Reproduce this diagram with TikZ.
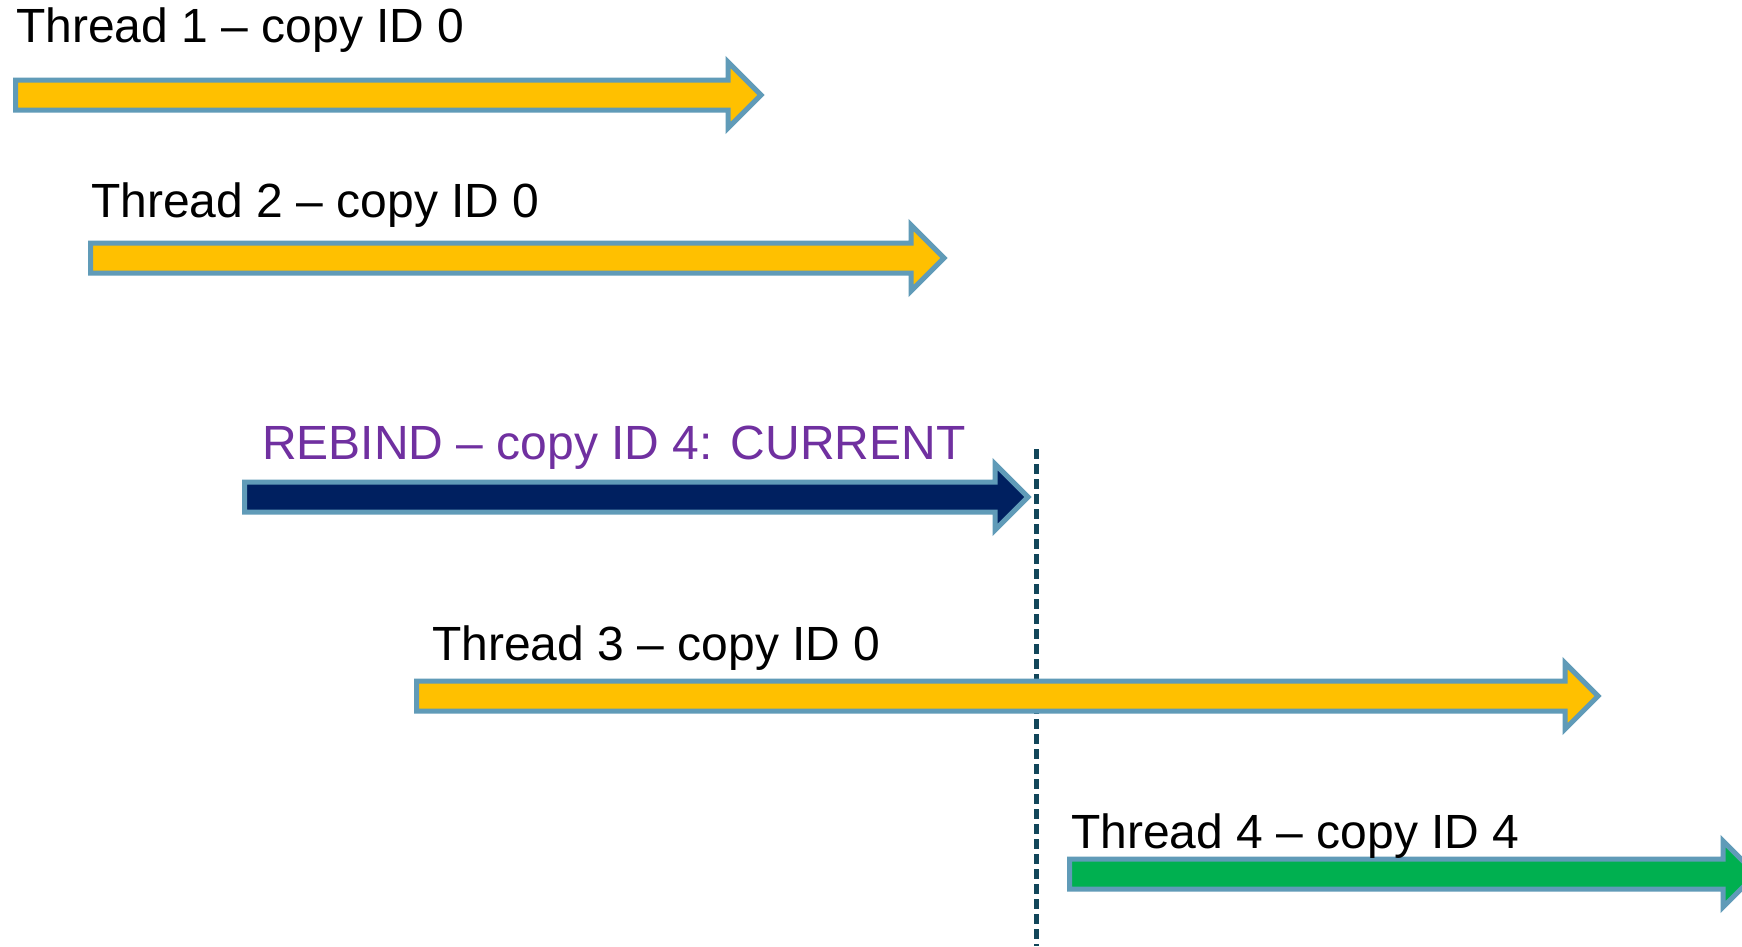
\documentclass[tikz,border=0pt]{standalone}
\usepackage{fontspec}
\setmainfont{Liberation Sans}
\definecolor{arrowline}{RGB}{96,155,184}
\definecolor{tyellow}{RGB}{255,192,0}
\definecolor{tnavy}{RGB}{0,32,96}
\definecolor{tgreen}{RGB}{0,176,80}
\definecolor{tpurple}{RGB}{112,48,160}
\definecolor{dashcol}{RGB}{18,70,90}
\newcommand\threadarrow[5]{% name, left, tip, centre y, fill
  \path[arrowbox,fill=#5] (#2,#4-15) -- (#3-33,#4-15) -- (#3-33,#4-33) -- (#3,#4)
    -- (#3-33,#4+33) -- (#3-33,#4+15) -- (#2,#4+15) -- cycle;
  \coordinate (#1) at (#3,#4);}
\tikzset{
  arrowbox/.style={draw=arrowline,line width=5pt,line join=miter},
  lbl/.style={anchor=base west,inner sep=0pt,font=\fontsize{48}{57}\selectfont},
  marker/.style={draw=dashcol,line width=5pt,dash pattern=on 10pt off 5pt}
}
\begin{document}
\begin{tikzpicture}[x=1pt,y=-1pt]
\useasboundingbox (0,0) rectangle (1742,946);
\clip (0,0) rectangle (1742,946);
\fill[white] (0,0) rectangle (1742,946);
% dashed time marker
\coordinate (mtop) at (1036,449);
\coordinate (mbot) at (1036,946);
\draw[marker] (mtop) -- (mbot);
% arrows
\threadarrow{a1}{15.5}{761}{95}{tyellow}
\threadarrow{a2}{90.5}{944}{258}{tyellow}
\threadarrow{a3}{244.5}{1028}{497}{tnavy}
\threadarrow{a4}{416.5}{1598}{696}{tyellow}
\threadarrow{a5}{1069.5}{1756}{874}{tgreen}
% labels
\node[lbl] (t1) at (16,42) {Thread 1 – copy ID 0};
\node[lbl] (t2) at (91,217) {Thread 2 – copy ID 0};
\node[lbl,text=tpurple] (t3) at (262,459) {REBIND – copy ID 4: CURRENT};
\node[lbl] (t4) at (432,660) {Thread 3 – copy ID 0};
\node[lbl] (t5) at (1071,848) {Thread 4 – copy ID 4};
\end{tikzpicture}
\end{document}
